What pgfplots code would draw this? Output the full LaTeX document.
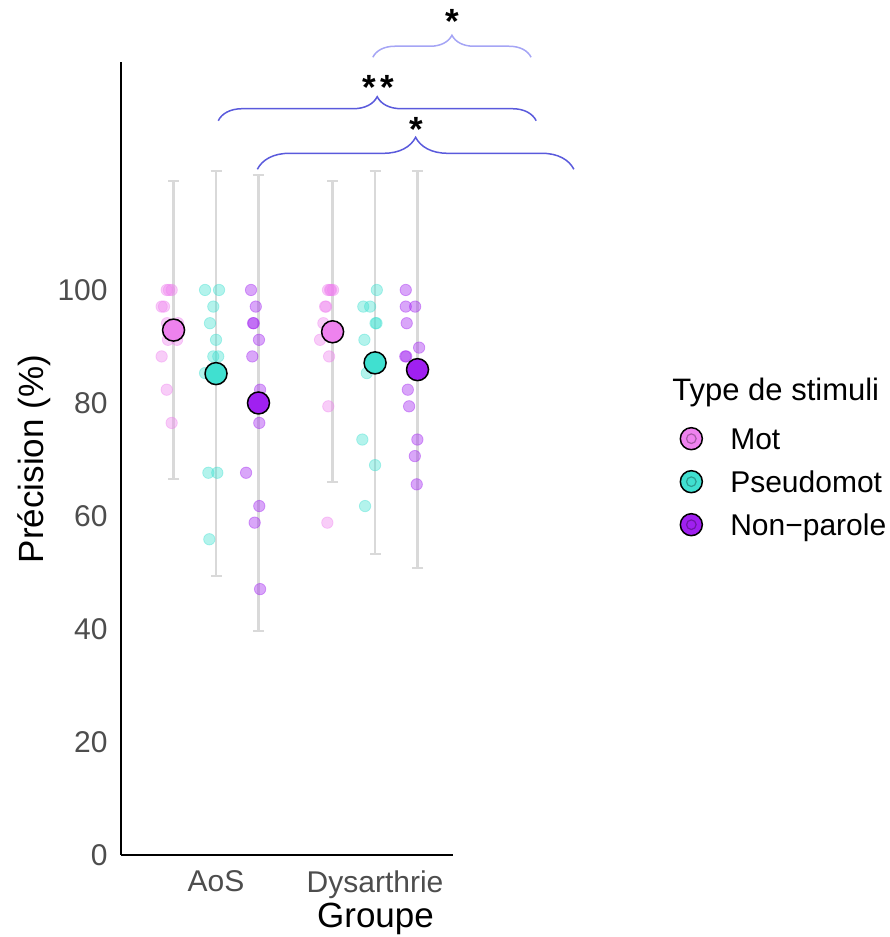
\documentclass[border=0pt]{standalone}
\usepackage{fontspec}
\setmainfont{Liberation Sans}
\usepackage{pgfplots}
\pgfplotsset{compat=1.18}
\usetikzlibrary{decorations.pathreplacing}

\definecolor{cmot}{HTML}{EE82EE}
\definecolor{cpseudo}{HTML}{40E0D0}
\definecolor{cnon}{HTML}{A020F0}
\definecolor{errgray}{RGB}{217,217,217}
\definecolor{brk}{RGB}{90,90,220}
\definecolor{brklight}{RGB}{165,165,245}
\definecolor{ticklab}{RGB}{77,77,77}

\pgfplotsset{
  jit/.style={forget plot, only marks, mark=*, mark size=2.85pt,
    mark options={fill=#1, draw=#1, fill opacity=0.4, draw opacity=0.4, line width=0.4pt}},
  avg/.style={forget plot, only marks, mark=*, mark size=5.5pt,
    mark options={fill=#1, draw=black, line width=0.75pt}},
  key/.style={legend image code/.code={
    \draw[fill=#1, draw=black, line width=0.75pt] (0,0) circle (5.5pt);
    \draw[fill=#1, draw=#1!70!black, line width=0.6pt] (0,0) circle (2.4pt);}},
}
\tikzset{sigstar/.style={anchor=base, inner sep=0pt, font=\fontsize{17.5}{20}\selectfont\bfseries}}

\begin{document}
\begin{tikzpicture}
\path[use as bounding box] (-60.5pt,-41pt) rectangle (384pt,427.5pt);
\begin{axis}[
  at={(0,0)}, anchor=south west,
  scale only axis, width=166pt, height=396.5pt,
  xmin=0.4025, xmax=2.49, ymin=0, ymax=140.35,
  axis lines=left, axis line style={-, line width=1pt, black},
  xtick={1,2}, xticklabels={AoS,Dysarthrie},
  ytick={0,20,40,60,80,100},
  major tick length=0pt,
  /pgf/number format/assume math mode=true,
  tick label style={font=\fontsize{15}{18}\selectfont, text=ticklab},
  yticklabel style={anchor=east, inner sep=0pt, xshift=-6.5pt},
  xticklabel style={anchor=north, inner sep=0pt, yshift=-7.5pt},
  clip=false,
  legend style={at={(axis description cs:1.6813,0.5403)}, anchor=north west,
    draw=none, fill=none, inner sep=0pt, row sep=9.75pt, column sep=13.6pt,
    font=\fontsize{15}{18}\selectfont,
    nodes={inner sep=0pt, text height=10.7pt, text depth=0pt}},
  legend cell align=left,
]
% error bars (mean +- spread)
\addplot[forget plot, only marks, mark=*, mark size=0pt,
  error bars/.cd, y dir=both, y explicit,
  error bar style={errgray, line width=1.25pt},
  error mark options={errgray, line width=1pt, mark size=2.75pt, rotate=90}]
  coordinates {
  (0.733,92.9) +- (0,26.3)
  (1.000,85.2) +- (0,35.85)
  (1.267,80.0) +- (0,40.3)
  (1.733,92.6) +- (0,26.6)
  (2.000,87.1) +- (0,33.9)
  (2.267,85.9) +- (0,35.15)
  };

% individual scores
\addplot[jit=cmot] coordinates {
  (0.690,100) (0.721,100) (0.704,100)
  (0.658,97.06) (0.673,97.06)
  (0.692,94.12) (0.761,94.12)
  (0.698,91.18) (0.755,91.18)
  (0.658,88.24) (0.690,82.35) (0.721,76.47)
  (1.704,100) (1.736,100) (1.717,100) (1.723,100)
  (1.686,97.06) (1.692,97.06)
  (1.675,94.12) (1.654,91.18) (1.711,88.24)
  (1.706,79.41) (1.700,58.82)
};
\addplot[jit=cpseudo] coordinates {
  (0.931,100) (1.019,100) (0.983,97.06) (0.962,94.12) (1.000,91.18)
  (0.983,88.24) (1.014,88.24) (0.931,85.29)
  (0.952,67.65) (1.008,67.65) (0.958,55.88)
  (2.011,100) (1.926,97.06) (1.969,97.06)
  (2.003,94.12) (2.009,94.12) (1.933,91.18) (1.948,85.29)
  (1.920,73.53) (2.000,69.0) (1.937,61.76)
};
\addplot[jit=cnon] coordinates {
  (1.220,100) (1.250,97.06) (1.233,94.12) (1.237,94.12) (1.270,91.18)
  (1.228,88.24) (1.277,82.35) (1.272,76.47) (1.189,67.65)
  (1.272,61.76) (1.243,58.82) (1.277,47.06)
  (2.193,100) (2.193,97.06) (2.252,97.06) (2.199,94.12) (2.277,89.8)
  (2.190,88.24) (2.196,88.24) (2.206,82.35) (2.214,79.41)
  (2.266,73.53) (2.250,70.6) (2.262,65.6)
};

% means
\addplot[avg=cmot] coordinates {(0.733,92.9) (1.733,92.6)};
\addplot[avg=cpseudo] coordinates {(1.000,85.2) (2.000,87.1)};
\addplot[avg=cnon] coordinates {(1.267,80.0) (2.267,85.9)};

\addlegendimage{key=cmot}
\addlegendentry{Mot}
\addlegendimage{key=cpseudo}
\addlegendentry{Pseudomot}
\addlegendimage{key=cnon}
\addlegendentry{Non−parole}

% significance brackets
\draw[brklight, line width=0.75pt, decorate, decoration={brace, amplitude=11pt}]
  (axis cs:1.986,141.19) -- (axis cs:2.981,141.19);
\draw[brk, line width=0.75pt, decorate, decoration={brace, amplitude=12pt}]
  (axis cs:1.014,129.96) -- (axis cs:3.013,129.96);
\draw[brk, line width=0.75pt, decorate, decoration={brace, amplitude=16pt}]
  (axis cs:1.26,121.36) -- (axis cs:3.25,121.36);
\coordinate (s1) at (axis cs:2.486,145.4);
\coordinate (s2) at (axis cs:2.020,133.7);
\coordinate (s3) at (axis cs:2.258,126.3);
\end{axis}

\node[sigstar] at (s1) {*};
\node[sigstar] at (s2) {*\kern1.8pt*};
\node[sigstar] at (s3) {*};
\node[rotate=90, anchor=base, font=\fontsize{17.5}{20}\selectfont] at (-38.85pt,198pt) {Précision (\%)};
\node[anchor=base, font=\fontsize{17.5}{20}\selectfont] at (127.25pt,-36pt) {Groupe};
\node[anchor=base west, inner sep=0pt, font=\fontsize{15.5}{18}\selectfont] at (275.5pt,227pt) {Type de stimuli};
\end{tikzpicture}
\end{document}
